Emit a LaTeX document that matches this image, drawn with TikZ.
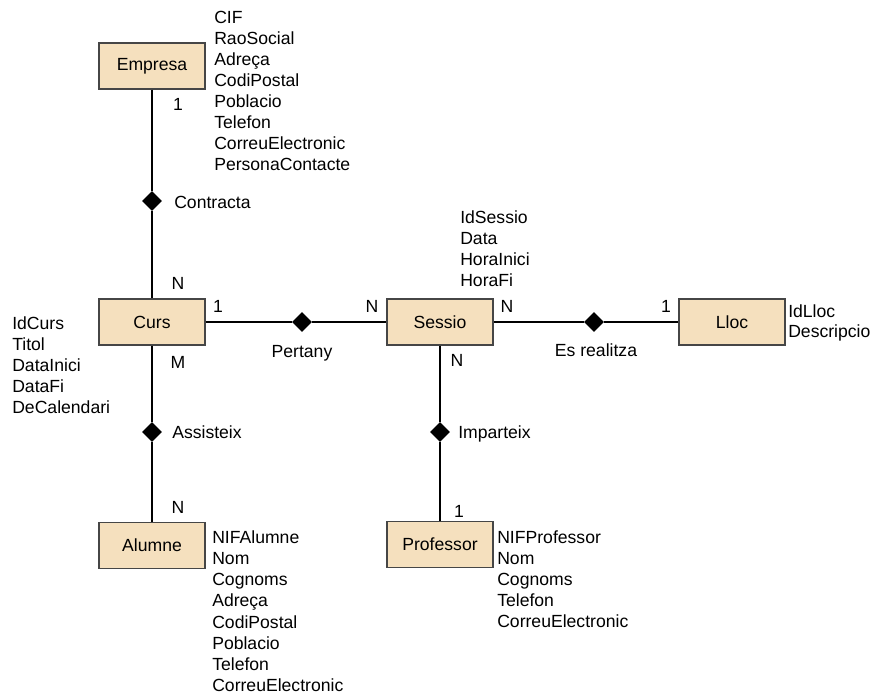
\documentclass[tikz,border=0pt]{standalone}
\usepackage{fontspec}
\setmainfont{Liberation Sans}
\usetikzlibrary{shapes.geometric}
\definecolor{entfill}{RGB}{245,224,190}
\definecolor{entline}{RGB}{70,70,70}
\begin{document}
\begin{tikzpicture}[x=0.75pt,y=-0.75pt,
  every node/.style={font=\fontsize{13.2}{15.8}\selectfont},
  entity/.style={draw=entline,fill=entfill,line width=1pt,minimum width=79.5pt,minimum height=34.5pt,inner sep=0pt},
  rel/.style={diamond,fill=black,draw=none,inner sep=0pt,minimum size=15pt},
  attr/.style={anchor=base west,inner sep=0pt},
  card/.style={anchor=base,inner sep=0pt},
  link/.style={line width=1pt,black}]
\useasboundingbox (0,0) rectangle (870,698);

% entities
\node[entity] (empresa) at (152,66) {Empresa};
\node[entity] (curs) at (152,322) {Curs};
\node[entity] (sessio) at (440,322) {Sessio};
\node[entity] (lloc) at (732,322) {Lloc};
\node[entity] (alumne) at (152,545.5) {Alumne};
\node[entity] (professor) at (440,544.5) {Professor};

% relationships
\node[rel] (contracta) at (152,201) {};
\node[rel] (pertany) at (302,322) {};
\node[rel] (esrealitza) at (594,322) {};
\node[rel] (assisteix) at (152,432) {};
\node[rel] (imparteix) at (440,432) {};

% connectors
\draw[link] (empresa) -- (contracta) -- (curs);
\draw[link] (curs) -- (pertany) -- (sessio);
\draw[link] (sessio) -- (esrealitza) -- (lloc);
\draw[link] (curs) -- (assisteix) -- (alumne);
\draw[link] (sessio) -- (imparteix) -- (professor);

% relationship names
\node[attr] (lcontracta) at (174,209) {Contracta};
\node[card] (lpertany) at (302,357) {Pertany};
\node[card] (lesrealitza) at (596,356) {Es realitza};
\node[attr] (lassisteix) at (172,438) {Assisteix};
\node[attr] (limparteix) at (458,438) {Imparteix};

% cardinalities
\node[card] (c1) at (178,111) {1};
\node[card] (c2) at (178,290) {N};
\node[card] (c3) at (218,313) {1};
\node[card] (c4) at (178,368) {M};
\node[card] (c5) at (372,313) {N};
\node[card] (c6) at (507,313) {N};
\node[card] (c7) at (666,313) {1};
\node[card] (c8) at (457,366) {N};
\node[card] (c9) at (178,513) {N};
\node[card] (c10) at (459,517) {1};

% attributes
\foreach \t [count=\i from 0] in {CIF,RaoSocial,Adreça,CodiPostal,Poblacio,Telefon,CorreuElectronic,PersonaContacte}
  \node[attr] (aemp\i) at (214,23.3+21*\i) {\t};
\foreach \t [count=\i from 0] in {IdSessio,Data,HoraInici,HoraFi}
  \node[attr] (ases\i) at (460,223.3+21.2*\i) {\t};
\foreach \t [count=\i from 0] in {IdCurs,Titol,DataInici,DataFi,DeCalendari}
  \node[attr] (acur\i) at (12,329.3+21*\i) {\t};
\foreach \t [count=\i from 0] in {IdLloc,Descripcio}
  \node[attr] (alloc\i) at (788,317+21*\i) {\t};
\foreach \t [count=\i from 0] in {NIFAlumne,Nom,Cognoms,Adreça,CodiPostal,Poblacio,Telefon,CorreuElectronic}
  \node[attr] (aalu\i) at (212,543.3+21.2*\i) {\t};
\foreach \t [count=\i from 0] in {NIFProfessor,Nom,Cognoms,Telefon,CorreuElectronic}
  \node[attr] (apro\i) at (497,543.3+21*\i) {\t};
\end{tikzpicture}
\end{document}
